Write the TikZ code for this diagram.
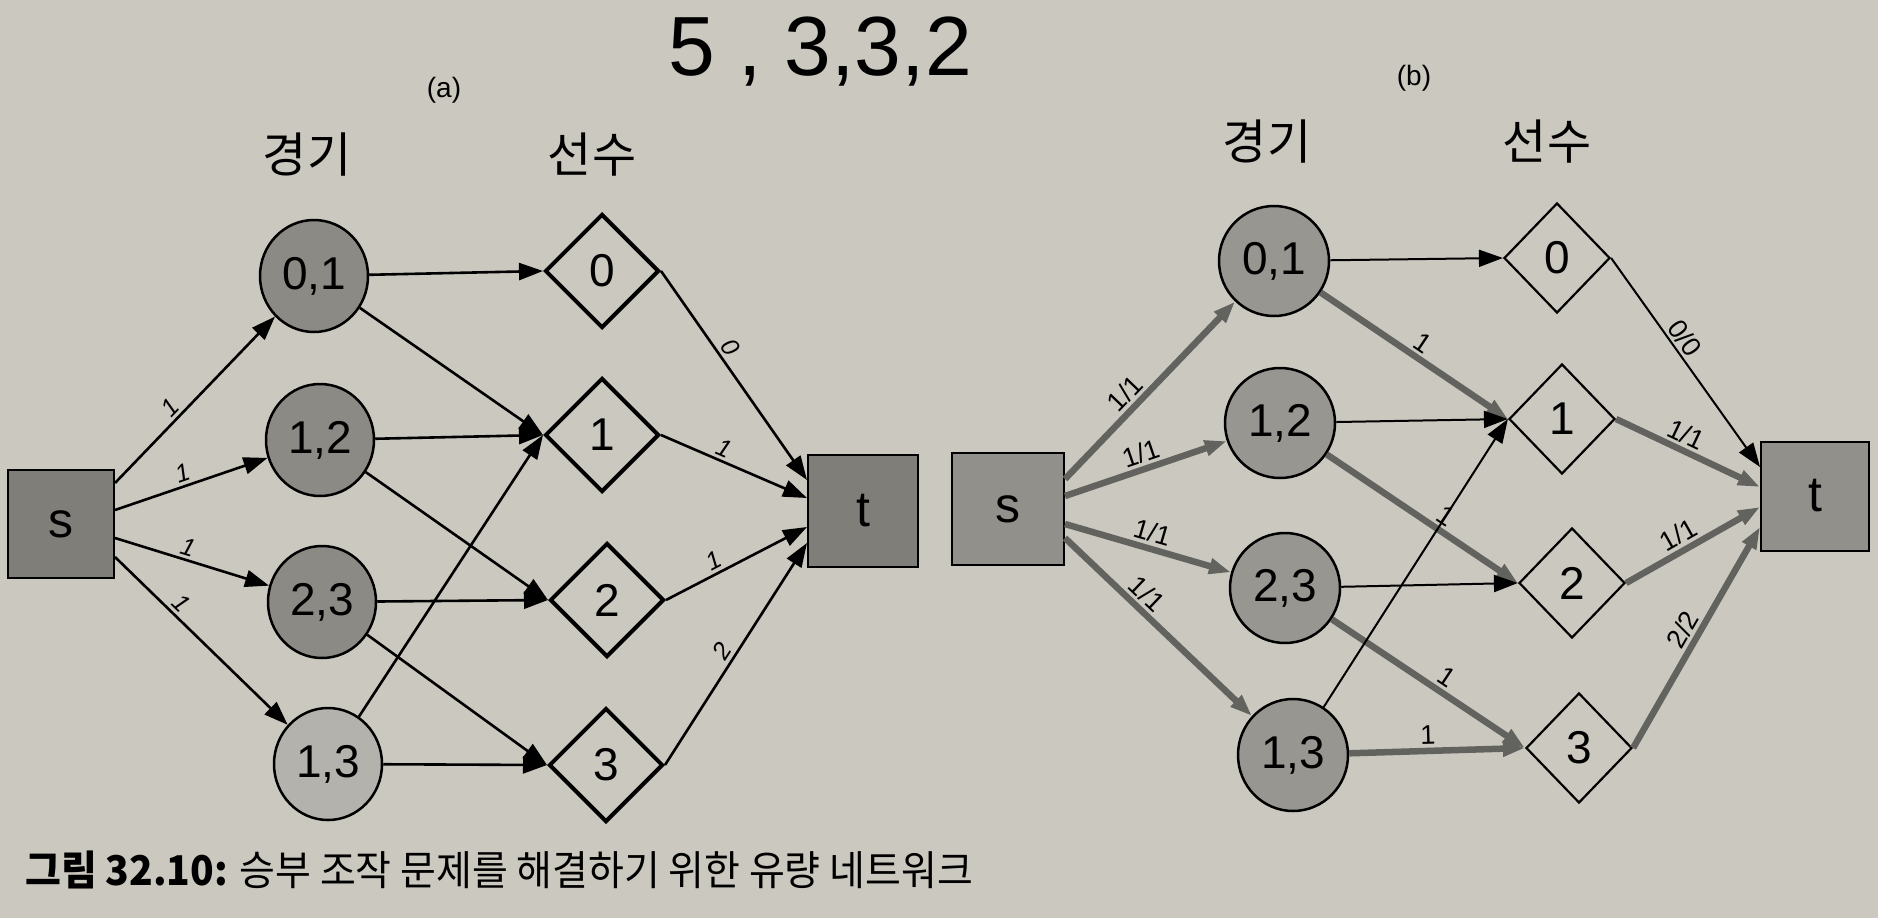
\documentclass[tikz,border=0pt]{standalone}
\usepackage{fontspec}
\setmainfont{Liberation Sans}
\newfontfamily\kr{Noto Sans CJK KR}
\newfontfamily\krcap[FakeStretch=0.95]{Noto Sans CJK KR}
\usetikzlibrary{shapes.geometric,arrows.meta,calc}
\definecolor{paper}{RGB}{203,200,191}
\definecolor{sqfill}{RGB}{128,126,120}
\definecolor{gmfill}{RGB}{140,138,132}
\definecolor{gmlight}{RGB}{180,178,172}
\definecolor{gmfillb}{RGB}{152,150,144}
\definecolor{sqfillb}{RGB}{146,144,138}
\definecolor{flowgray}{RGB}{98,98,94}
\begin{document}
\begin{tikzpicture}[x=1pt,y=-1pt,
  sqbox/.style={draw, line width=2pt, minimum width=106pt, minimum height=108pt, inner sep=0pt, font=\fontsize{50}{50}\selectfont},
  gmnode/.style={ellipse, draw, line width=2.5pt, minimum width=108pt, minimum height=112pt, inner sep=0pt, font=\fontsize{46}{46}\selectfont},
  plnode/.style={diamond, aspect=1, draw, line width=4pt, minimum width=114pt, minimum height=114pt, inner sep=0pt, font=\fontsize{46}{46}\selectfont},
  plnodeb/.style={plnode, line width=2.2pt, minimum width=106pt, minimum height=110pt},
  ea/.style={line width=2.6pt, -{Triangle[length=24pt,width=17pt]}},
  eb/.style={line width=2pt, -{Triangle[length=24pt,width=17pt]}},
  fb/.style={line width=6.5pt, draw=flowgray, -{Triangle[length=22pt,width=15pt]}},
  laba/.style={sloped, above, font=\fontsize{25}{25}\selectfont\itshape, inner sep=3pt},
  labb/.style={sloped, above, font=\fontsize{27}{27}\selectfont, inner sep=3pt},
  head/.style={font=\kr\fontsize{48}{48}\selectfont},
  sub/.style={font=\fontsize{28}{28}\selectfont}
]
\fill[paper] (0,0) rectangle (1878,918);
\path[use as bounding box] (0,0) rectangle (1878,918);

% handwriting
\node[font=\fontsize{84}{84}\selectfont] (hw) at (820,52) {5 , 3,3,2};

% ---------- (a) ----------
\node[sub] (ta) at (444,90) {(a)};
\node[head] (ga) at (307,155) {경기};
\node[head] (pa) at (592,155) {선수};

\node[sqbox, fill=sqfill] (sA) at (61,524) {s};
\node[sqbox, fill=sqfill, minimum width=110pt, minimum height=112pt] (tA) at (863,511) {t};

\node[gmnode, fill=gmfill] (a01) at (314,276) {0,1};
\node[gmnode, fill=gmfill] (a12) at (320,440) {1,2};
\node[gmnode, fill=gmfill] (a23) at (322,602) {2,3};
\node[gmnode, fill=gmlight] (a13) at (328,764) {1,3};

\node[plnode] (aP0) at (602,271) {0};
\node[plnode] (aP1) at (602,435) {1};
\node[plnode] (aP2) at (607,600) {2};
\node[plnode] (aP3) at (606,765) {3};

\draw[ea] ($(sA.east)+(0,-41)$) -- node[laba,pos=0.4]{1} (a01);
\draw[ea] ($(sA.east)+(0,-14)$) -- node[laba,pos=0.47]{1} (a12);
\draw[ea] ($(sA.east)+(0,14)$) -- node[laba,pos=0.45]{1} (a23);
\draw[ea] ($(sA.east)+(0,33)$) -- node[laba,pos=0.33]{1} (a13);

\draw[ea] (a01) -- (aP0.west);
\draw[ea] (a01) -- (aP1.west);
\draw[ea] (a12) -- (aP1.west);
\draw[ea] (a12) -- (aP2.west);
\draw[ea] (a23) -- (aP2.west);
\draw[ea] (a23) -- (aP3.west);
\draw[ea] (a13) -- (aP1.west);
\draw[ea] (a13) -- (aP3.west);

\draw[ea] (aP0.east) -- node[laba,pos=0.4]{0} ($(tA.west)+(0,-31)$);
\draw[ea] (aP1.east) -- node[laba,pos=0.4]{1} ($(tA.west)+(0,-13)$);
\draw[ea] (aP2.east) -- node[laba,pos=0.38]{1} ($(tA.west)+(0,16)$);
\draw[ea] (aP3.east) -- node[laba,pos=0.48]{2} ($(tA.west)+(0,32)$);

% ---------- (b) ----------
\node[sub] (tb) at (1414,78) {(b)};
\node[head] (gb) at (1267,142) {경기};
\node[head] (pb) at (1547,142) {선수};

\node[sqbox, fill=sqfillb, minimum width=112pt, minimum height=112pt] (sB) at (1008,509) {s};
\node[sqbox, fill=sqfillb, minimum width=108pt, minimum height=109pt] (tB) at (1815,496) {t};

\node[gmnode, fill=gmfillb, minimum width=110pt, minimum height=110pt] (b01) at (1274,261) {0,1};
\node[gmnode, fill=gmfillb, minimum width=110pt, minimum height=110pt] (b12) at (1280,423) {1,2};
\node[gmnode, fill=gmfillb, minimum width=110pt, minimum height=110pt] (b23) at (1285,588) {2,3};
\node[gmnode, fill=gmfillb, minimum width=110pt, minimum height=112pt] (b13) at (1293,755) {1,3};

\node[plnodeb] (bP0) at (1557,258) {0};
\node[plnodeb] (bP1) at (1562,419) {1};
\node[plnodeb] (bP2) at (1572,583) {2};
\node[plnodeb] (bP3) at (1579,748) {3};

\draw[fb] ($(sB.east)+(0,-30)$) -- node[labb,pos=0.42]{1/1} (b01);
\draw[fb] ($(sB.east)+(0,-13)$) -- node[labb,pos=0.5]{1/1} (b12);
\draw[fb] ($(sB.east)+(0,15)$) -- node[labb,pos=0.5]{1/1} (b23);
\draw[fb] ($(sB.east)+(0,29)$) -- node[labb,pos=0.38]{1/1} (b13);

\draw[eb] (b01) -- (bP0.west);
\draw[fb] (b01) -- node[labb,pos=0.5]{1} (bP1.west);
\draw[eb] (b12) -- (bP1.west);
\draw[fb] (b12) -- node[labb,pos=0.58]{1} (bP2.west);
\draw[eb] (b23) -- (bP2.west);
\draw[fb] (b23) -- node[labb,pos=0.55]{1} (bP3.west);
\draw[eb] (b13) -- (bP1.west);
\draw[fb] (b13) -- node[labb,pos=0.45]{1} (bP3.west);

\draw[eb] (bP0.east) -- node[labb,pos=0.42]{0/0} ($(tB.west)+(0,-29)$);
\draw[fb] (bP1.east) -- node[labb,pos=0.44]{1/1} ($(tB.west)+(0,-9)$);
\draw[fb] (bP2.east) -- node[labb,pos=0.45]{1/1} ($(tB.west)+(0,11)$);
\draw[fb] (bP3.east) -- node[labb,pos=0.5]{2/2} ($(tB.west)+(0,31)$);

% caption
\node[anchor=west, inner sep=0pt, font=\krcap\fontsize{41}{41}\selectfont] (cap) at (25,870) {\textbf{그림 32.10:} 승부 조작 문제를 해결하기 위한 유량 네트워크};
\end{tikzpicture}
\end{document}
